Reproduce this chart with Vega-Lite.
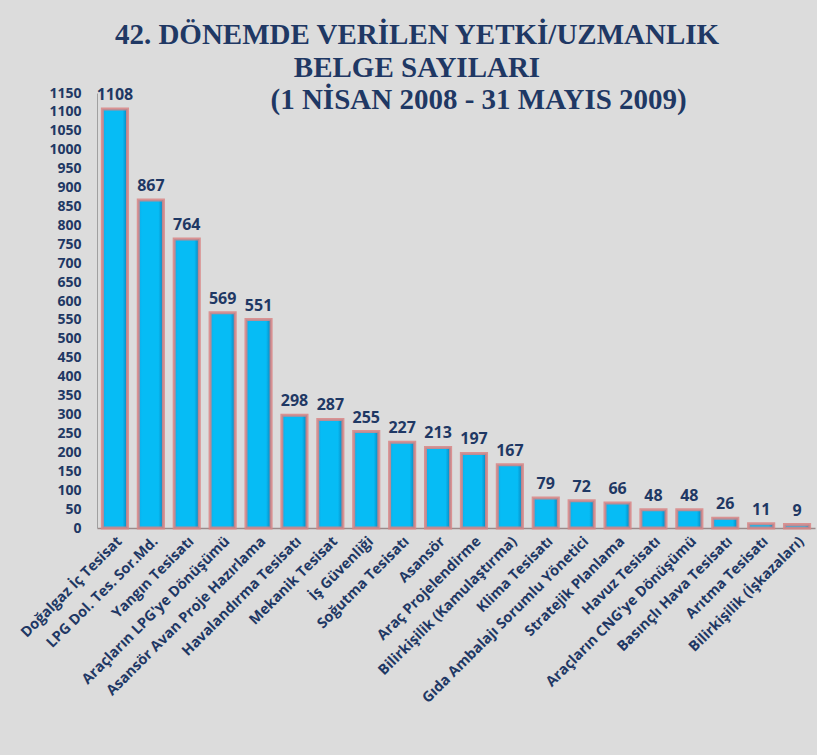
{
  "$schema": "https://vega.github.io/schema/vega-lite/v6.json",
  "width": 718,
  "height": 435,
  "autosize": {"type": "none"},
  "padding": {"left": 97, "top": 93, "right": 2, "bottom": 227},
  "background": "#dcdcdc",
  "config": {"view": {"stroke": null}, "font": "Open Sans"},
  "title": {
    "text": ["42. DÖNEMDE VERİLEN YETKİ/UZMANLIK", "BELGE SAYILARI"],
    "subtitle": "\u200b\u00a0\u00a0\u00a0\u00a0\u00a0\u00a0\u00a0\u00a0\u00a0\u00a0\u00a0\u00a0\u00a0\u00a0\u00a0\u00a0\u00a0(1 NİSAN 2008 - 31 MAYIS 2009)",
    "font": "Liberation Serif",
    "subtitleFont": "Liberation Serif",
    "fontSize": 29,
    "subtitleFontSize": 29,
    "fontWeight": "bold",
    "subtitleFontWeight": "bold",
    "color": "#1f3864",
    "subtitleColor": "#1f3864",
    "lineHeight": 33,
    "subtitleLineHeight": 33,
    "subtitlePadding": 3,
    "anchor": "middle",
    "frame": "group",
    "dx": -39,
    "offset": -29
  },
  "data": {
    "values": [
      {"k": "Doğalgaz İç Tesisat", "v": 1108},
      {"k": "LPG Dol. Tes. Sor.Md.", "v": 867},
      {"k": "Yangın Tesisatı", "v": 764},
      {"k": "Araçların LPG'ye Dönüşümü", "v": 569},
      {"k": "Asansör Avan Proje Hazırlama", "v": 551},
      {"k": "Havalandırma Tesisatı", "v": 298},
      {"k": "Mekanik Tesisat", "v": 287},
      {"k": "İş Güvenliği", "v": 255},
      {"k": "Soğutma Tesisatı", "v": 227},
      {"k": "Asansör", "v": 213},
      {"k": "Araç Projelendirme", "v": 197},
      {"k": "Bilirkişilik (Kamulaştırma)", "v": 167},
      {"k": "Klima Tesisatı", "v": 79},
      {"k": "Gıda Ambalajı Sorumlu Yönetici", "v": 72},
      {"k": "Stratejik Planlama", "v": 66},
      {"k": "Havuz Tesisatı", "v": 48},
      {"k": "Araçların CNG'ye Dönüşümü", "v": 48},
      {"k": "Basınçlı Hava Tesisatı", "v": 26},
      {"k": "Arıtma Tesisatı", "v": 11},
      {"k": "Bilirkişilik (İşkazaları)", "v": 9}
    ]
  },
  "encoding": {
    "x": {
      "field": "k",
      "type": "nominal",
      "sort": null,
      "scale": {"paddingInner": 0.3, "paddingOuter": 0.15},
      "axis": {
        "title": null,
        "labelAngle": -45,
        "labelFont": "Open Sans",
        "labelFontWeight": "bold",
        "labelFontSize": 14.5,
        "labelColor": "#1f3864",
        "ticks": false,
        "labelPadding": 6,
        "domainColor": "#9a8a8a",
        "domainWidth": 1.5,
        "labelLimit": 400
      }
    },
    "y": {
      "field": "v",
      "type": "quantitative",
      "scale": {"domain": [0, 1150], "nice": false},
      "axis": {
        "title": null,
        "format": "d",
        "values": [0,50,100,150,200,250,300,350,400,450,500,550,600,650,700,750,800,850,900,950,1000,1050,1100,1150],
        "grid": false,
        "ticks": false,
        "labelPadding": 16,
        "labelFont": "Open Sans",
        "labelFontWeight": "bold",
        "labelFontSize": 14,
        "labelColor": "#1f3864",
        "domainColor": "#a0a0a0",
        "domainWidth": 1
      }
    }
  },
  "layer": [
    {
      "mark": {
        "type": "bar",
        "stroke": "#d98585",
        "strokeWidth": 3,
        "strokeOpacity": 0.85,
        "color": {
          "gradient": "linear",
          "x1": 0, "y1": 0, "x2": 1, "y2": 0,
          "stops": [
            {"offset": 0, "color": "#14a9e3"},
            {"offset": 0.15, "color": "#06bcf5"},
            {"offset": 0.8, "color": "#06bcf5"},
            {"offset": 1, "color": "#0a80b8"}
          ]
        }
      }
    },
    {
      "mark": {
        "type": "text",
        "baseline": "bottom",
        "dy": -6,
        "font": "Open Sans",
        "fontWeight": "bold",
        "fontSize": 16,
        "color": "#1f3864"
      },
      "encoding": {"text": {"field": "v", "type": "quantitative"}}
    }
  ]
}
